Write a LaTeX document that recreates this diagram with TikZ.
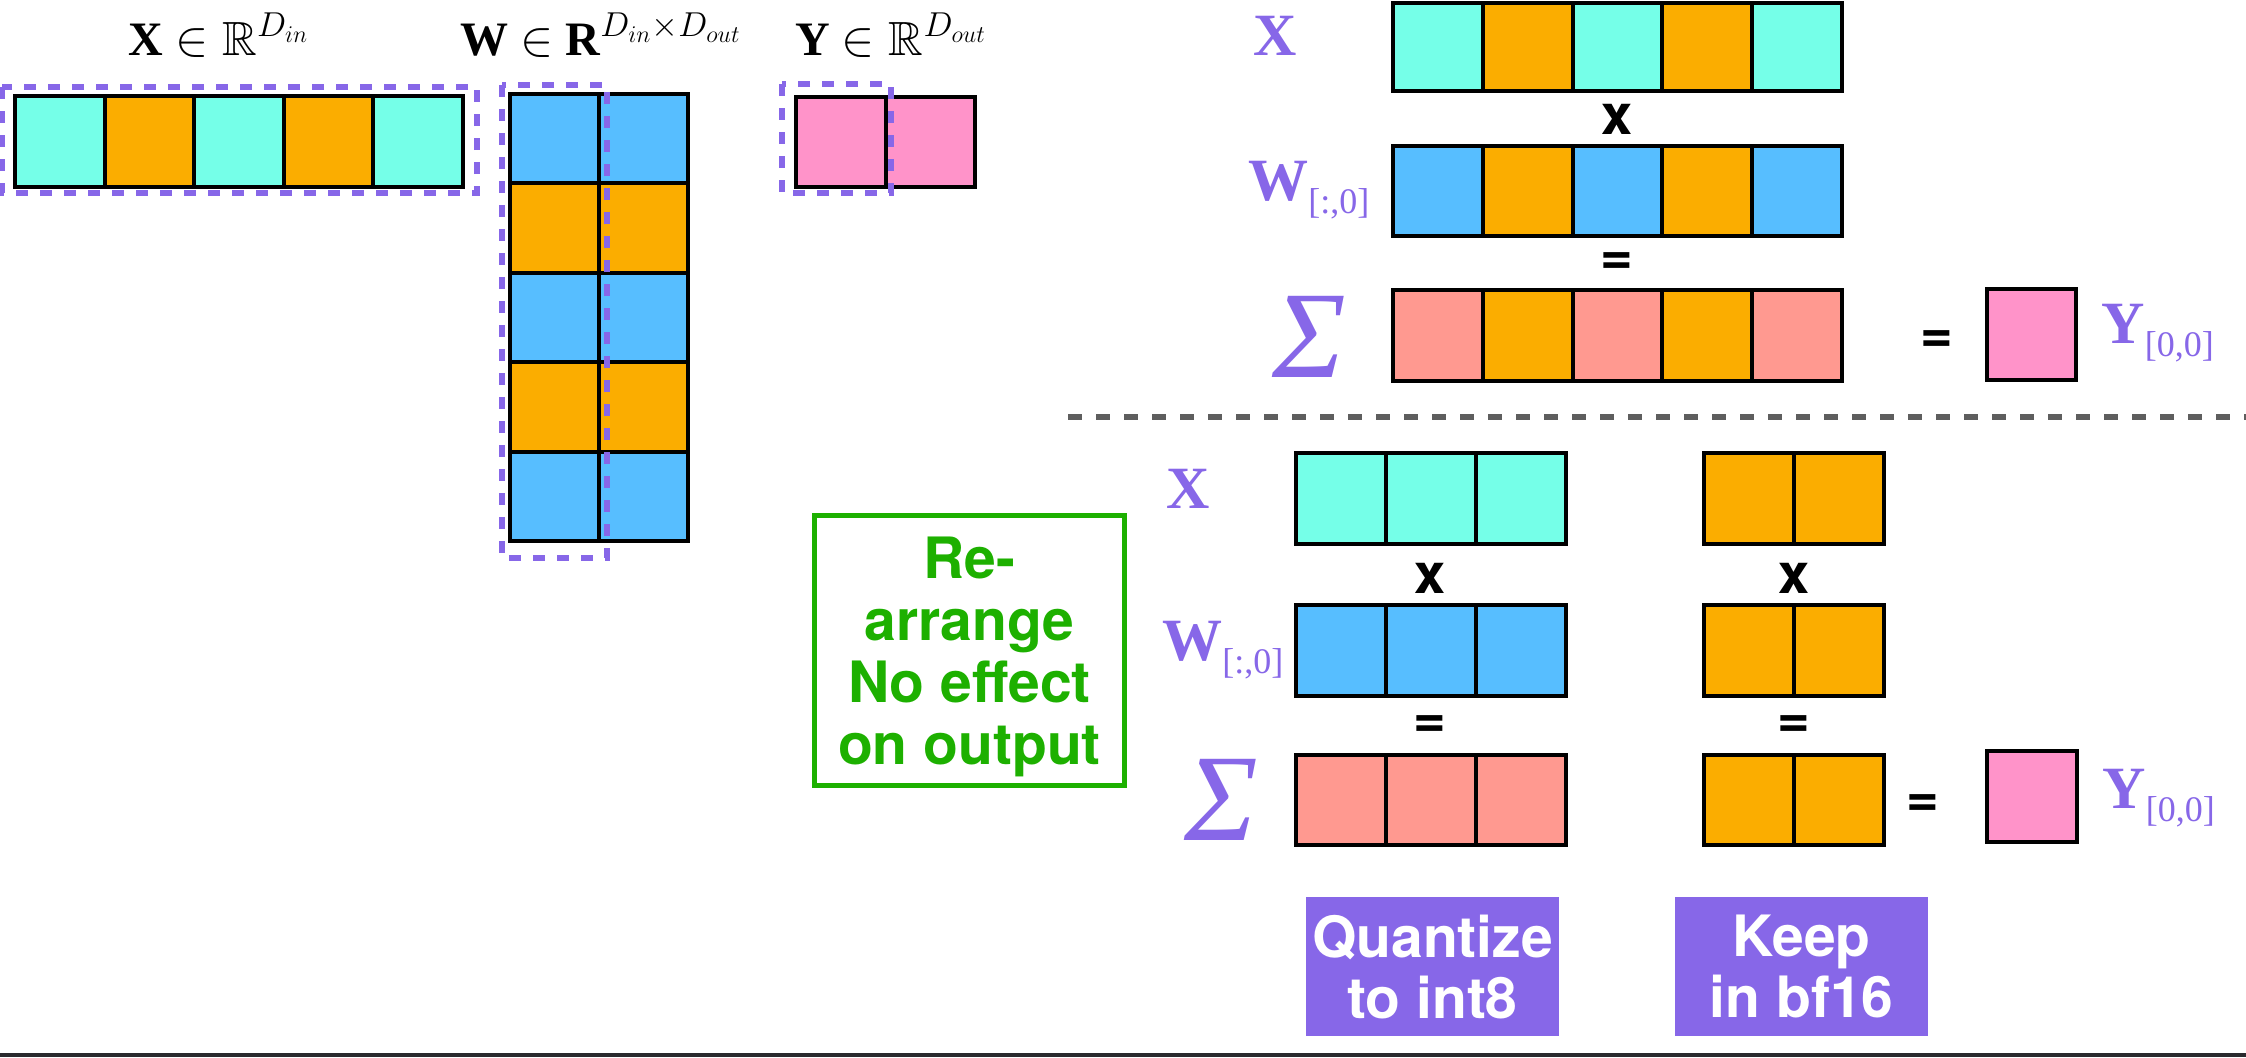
\documentclass[tikz,border=0pt]{standalone}
\usepackage{amssymb}
\usepackage{fontspec}
\newfontfamily\hv{TeX Gyre Heros}
\newfontfamily\tms{Liberation Serif}
\definecolor{cyanc}{HTML}{75FFE8}
\definecolor{orangec}{HTML}{FBAD00}
\definecolor{bluec}{HTML}{57BEFF}
\definecolor{salmonc}{HTML}{FF9990}
\definecolor{pinkc}{HTML}{FF93C9}
\definecolor{purplec}{HTML}{8767E8}
\definecolor{greenc}{HTML}{1DB000}
\definecolor{grayc}{HTML}{5E5E5E}
\definecolor{darkc}{HTML}{2A2A2E}
\newcommand\cellrow[6]{%
  \foreach \cc [count=\ii] in {#6} {
    \node[cell, fill=\cc, minimum width=#4*0.5pt, minimum height=#5*0.5pt] (#1\ii) at ({#2+(\ii-1)*#4},{#3}) {};
  }}
\begin{document}
\begin{tikzpicture}[x=0.5pt,y=-0.5pt,
  cell/.style={draw=black, line width=2pt, inner sep=0pt, outer sep=0pt, anchor=north west},
  selbox/.style={draw=purplec, line width=3pt, dash pattern=on 6pt off 6pt},
  title/.style={font=\tms\fontsize{24}{28}\selectfont, inner sep=0pt},
  lbl/.style={font=\tms\fontsize{30}{36}\selectfont, text=purplec, inner sep=0pt},
  sumlbl/.style={font=\tms\itshape\fontsize{62}{70}\selectfont, text=purplec, inner sep=0pt},
  op/.style={font=\hv\bfseries\fontsize{28}{30}\selectfont, inner sep=0pt},
  qbox/.style={fill=purplec, text=white, font=\hv\bfseries\fontsize{28.5}{30.5}\selectfont, align=center,
    minimum width=126.5pt, minimum height=69.5pt, inner sep=0pt, text depth=0pt},
  gbox/.style={draw=greenc, line width=2.5pt, text=greenc, font=\hv\bfseries\fontsize{28.5}{31}\selectfont,
    align=center, minimum width=155pt, minimum height=135pt, inner sep=0pt, text depth=0pt}]
\useasboundingbox (0,0) rectangle (2246,1057);

% ---------- left: titles ----------
\node[title, anchor=base] (tX) at (219,55) {\bfseries X $\in\mathbb{R}^{D_{in}}$};
\node[title, anchor=base] (tW) at (601,55) {\bfseries W $\in$ {\bfseries R}$^{D_{in}\times D_{out}}$};
\node[title, anchor=base] (tY) at (891,55) {\bfseries Y $\in\mathbb{R}^{D_{out}}$};

% ---------- left: matrices ----------
\cellrow{lx}{15}{96}{89.6}{91}{cyanc,orangec,cyanc,orangec,cyanc}
\foreach \rr/\rc in {0/bluec,1/orangec,2/bluec,3/orangec,4/bluec} {
  \cellrow{lw\rr-}{510}{94+\rr*89.4}{89}{89.4}{\rc,\rc}
}
\cellrow{ly}{796}{97}{89.5}{90}{pinkc,pinkc}
\draw[selbox] (2,87) rectangle (477,193);
\draw[selbox] (502,85) rectangle (607,558);
\draw[selbox] (782,84) rectangle (891,193);

% ---------- right top ----------
\node[lbl, anchor=base] (rX) at (1275,55) {\bfseries X};
\cellrow{rx}{1393}{3}{89.8}{88}{cyanc,orangec,cyanc,orangec,cyanc}
\node[op] (rtimes) at (1617,119) {x};
\node[lbl, anchor=base west] (rW) at (1248,200) {\bfseries W\lower6.5pt\hbox{\mdseries\fontsize{18}{20}\selectfont[:,0]}};
\cellrow{rw}{1393}{146}{89.8}{90}{bluec,orangec,bluec,orangec,bluec}
\node[op] (req) at (1617,264) {=};
\node[sumlbl, anchor=base] (rsum) at (1309,377) {Σ};
\cellrow{rs}{1393}{290}{89.8}{91}{salmonc,orangec,salmonc,orangec,salmonc}
\node[op] (req2) at (1937,342) {=};
\node[cell, fill=pinkc, minimum width=44.5pt, minimum height=45.5pt] (ry) at (1987,289) {};
\node[lbl, anchor=base west] (rYl) at (2101,343) {\bfseries Y\lower6.5pt\hbox{\mdseries\fontsize{18}{20}\selectfont[0,0]}};

% ---------- separator ----------
\coordinate (sepL) at (1068,417);
\coordinate (sepR) at (2246,417);
\draw[grayc, line width=3pt, dash pattern=on 7pt off 7pt] (sepL) -- (sepR);

% ---------- bottom ----------
\node[gbox] (rearr) at (969.5,650.5) {Re-\\arrange\\No effect\\on output};

\node[lbl, anchor=base] (bX) at (1188,508) {\bfseries X};
\cellrow{bxa}{1296}{453}{90}{91}{cyanc,cyanc,cyanc}
\cellrow{bxb}{1704}{453}{90}{91}{orangec,orangec}
\node[op] (btimesA) at (1430,578) {x};
\node[op] (btimesB) at (1794,578) {x};
\node[lbl, anchor=base west] (bW) at (1162,660) {\bfseries W\lower6.5pt\hbox{\mdseries\fontsize{18}{20}\selectfont[:,0]}};
\cellrow{bwa}{1296}{605}{90}{91}{bluec,bluec,bluec}
\cellrow{bwb}{1704}{605}{90}{91}{orangec,orangec}
\node[op] (beqA) at (1430,727) {=};
\node[op] (beqB) at (1794,727) {=};
\node[sumlbl, anchor=base] (bsum) at (1221,840) {Σ};
\cellrow{bsa}{1296}{755}{90}{90}{salmonc,salmonc,salmonc}
\cellrow{bsb}{1704}{755}{90}{90}{orangec,orangec}
\node[op] (beqC) at (1923,806) {=};
\node[cell, fill=pinkc, minimum width=45pt, minimum height=45.5pt] (by) at (1987,751) {};
\node[lbl, anchor=base west] (bYl) at (2102,808) {\bfseries Y\lower6.5pt\hbox{\mdseries\fontsize{18}{20}\selectfont[0,0]}};

\node[qbox] (quant) at (1432.5,966.5) {Quantize\\to int8};
\node[qbox] (keep) at (1801.5,966.5) {Keep\\in bf16};

% ---------- bottom rule ----------
\fill[darkc] (0,1053) rectangle (2246,1057);
\end{tikzpicture}
\end{document}
